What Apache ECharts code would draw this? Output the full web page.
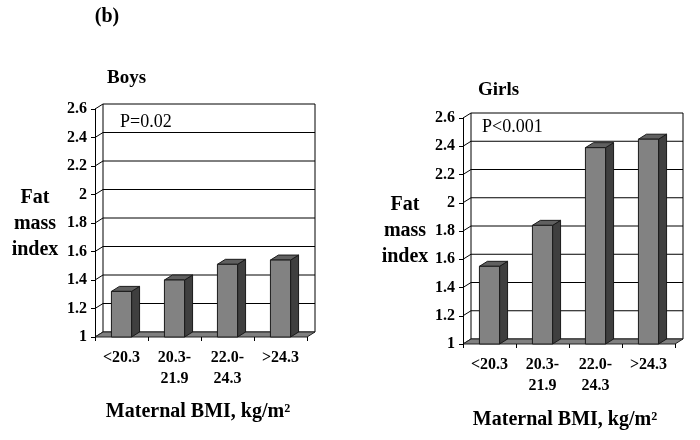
<!DOCTYPE html>
<html>
<head>
<meta charset="utf-8">
<script src="https://cdn.jsdelivr.net/npm/echarts@6/dist/echarts.min.js"></script>
<style>
  html, body { margin: 0; padding: 0; background: #fff; }
  #chart { width: 700px; height: 440px; }
</style>
</head>
<body>
<div id="chart"></div>
<script>
// data
var categories = ['<20.3', '20.3-\n21.9', '22.0-\n24.3', '>24.3'];
var boysValues = [1.32, 1.40, 1.51, 1.54];
var girlsValues = [1.55, 1.84, 2.39, 2.45];
var yTicks = [1, 1.2, 1.4, 1.6, 1.8, 2, 2.2, 2.4, 2.6];

var FONT = '"Liberation Serif", "Times New Roman", serif';
var DX = 8, DY = -5; // depth of the 3d box

var myChart = echarts.init(document.getElementById('chart'));

// back wall, gridlines, side ticks and floor
function renderWall(params, api) {
    var cs = params.coordSys;
    var kids = [];
    var yTop = api.coord([0, yTicks[yTicks.length - 1]])[1];
    var yBot = api.coord([0, yTicks[0]])[1];
    kids.push({
        type: 'rect',
        shape: { x: cs.x + DX, y: yTop + DY, width: cs.width, height: yBot - yTop },
        style: { fill: '#fff', stroke: '#000', lineWidth: 1 }
    });
    for (var i = 0; i < yTicks.length; i++) {
        var y = api.coord([0, yTicks[i]])[1];
        if (i > 0 && i < yTicks.length - 1) {
            kids.push({
                type: 'line',
                shape: { x1: cs.x + DX, y1: y + DY, x2: cs.x + cs.width + DX, y2: y + DY },
                style: { stroke: '#000', lineWidth: 1 }
            });
        }
        kids.push({
            type: 'line',
            shape: { x1: cs.x, y1: y, x2: cs.x + DX, y2: y + DY },
            style: { stroke: '#000', lineWidth: 1 }
        });
    }
    kids.push({
        type: 'polygon',
        shape: { points: [[cs.x, yBot], [cs.x + cs.width, yBot], [cs.x + cs.width + DX, yBot + DY], [cs.x + DX, yBot + DY]] },
        style: { fill: '#808080', stroke: '#222', lineWidth: 1 }
    });
    return { type: 'group', children: kids };
}

function renderBar(params, api) {
    var idx = api.value(0);
    var top = api.coord([idx, api.value(1)]);
    var base = api.coord([idx, yTicks[0]]);
    var band = api.size([1, 0])[0];
    var w = band * 0.38;
    var x0 = top[0] - w / 2;
    var x1 = x0 + w;
    var line = { stroke: '#1a1a1a', lineWidth: 1 };
    return {
        type: 'group',
        children: [
            {
                type: 'polygon',
                shape: { points: [[x1, top[1]], [x1 + DX, top[1] + DY], [x1 + DX, base[1] + DY], [x1, base[1]]] },
                style: Object.assign({ fill: '#3f3f3f' }, line)
            },
            {
                type: 'polygon',
                shape: { points: [[x0, top[1]], [x0 + DX, top[1] + DY], [x1 + DX, top[1] + DY], [x1, top[1]]] },
                style: Object.assign({ fill: '#606060' }, line)
            },
            {
                type: 'rect',
                shape: { x: x0, y: top[1], width: w, height: base[1] - top[1] },
                style: Object.assign({ fill: '#828282' }, line)
            }
        ]
    };
}

function xAxisFor(i) {
    return {
        type: 'category', gridIndex: i, data: categories, z: 5,
        axisLine: { show: false },
        axisTick: { show: true, length: 4, lineStyle: { color: '#000' } },
        axisLabel: { color: '#000', fontFamily: FONT, fontWeight: 'bold', fontSize: 16, lineHeight: 21, margin: 10, interval: 0 },
        splitLine: { show: false }
    };
}
function yAxisFor(i) {
    return {
        type: 'value', gridIndex: i, min: 1, max: 2.6, interval: 0.2, z: 5,
        axisLine: { show: true, lineStyle: { color: '#000', width: 1 } },
        axisTick: { show: true, length: 4, lineStyle: { color: '#000' } },
        axisLabel: { color: '#000', fontFamily: FONT, fontWeight: 'bold', fontSize: 16, margin: 8 },
        splitLine: { show: false }
    };
}

function txt(x, y, text, size, bold, align) {
    return {
        type: 'text', x: x, y: y, z: 10,
        style: {
            text: text, fill: '#000', font: (bold ? 'bold ' : '') + size + 'px ' + FONT,
            textAlign: align || 'center', textVerticalAlign: 'middle', lineHeight: 26
        }
    };
}

var option = {
    backgroundColor: '#fff',
    animation: false,
    grid: [
        { left: 95, top: 109, width: 212, height: 228 },
        { left: 463, top: 118, width: 212, height: 226 }
    ],
    xAxis: [xAxisFor(0), xAxisFor(1)],
    yAxis: [yAxisFor(0), yAxisFor(1)],
    series: [
        { type: 'custom', xAxisIndex: 0, yAxisIndex: 0, data: [[0, 1]], renderItem: renderWall, z: 1, silent: true },
        { type: 'custom', xAxisIndex: 1, yAxisIndex: 1, data: [[0, 1]], renderItem: renderWall, z: 1, silent: true },
        {
            type: 'custom', xAxisIndex: 0, yAxisIndex: 0, z: 3, renderItem: renderBar,
            encode: { x: 0, y: 1 },
            data: boysValues.map(function (v, i) { return [i, v]; })
        },
        {
            type: 'custom', xAxisIndex: 1, yAxisIndex: 1, z: 3, renderItem: renderBar,
            encode: { x: 0, y: 1 },
            data: girlsValues.map(function (v, i) { return [i, v]; })
        }
    ],
    graphic: [
        txt(107, 17, '(b)', 20, true),
        txt(107, 78, 'Boys', 19, true, 'left'),
        txt(478, 90, 'Girls', 19, true, 'left'),
        txt(120, 122, 'P=0.02', 18, false, 'left'),
        txt(482, 127, 'P<0.001', 18, false, 'left'),
        txt(35, 224, 'Fat\nmass\nindex', 20, true),
        txt(405, 231, 'Fat\nmass\nindex', 20, true),
        txt(198, 412, 'Maternal BMI, kg/m\u00b2', 20, true),
        txt(565, 420, 'Maternal BMI, kg/m\u00b2', 20, true)
    ]
};

myChart.setOption(option);
</script>
</body>
</html>
